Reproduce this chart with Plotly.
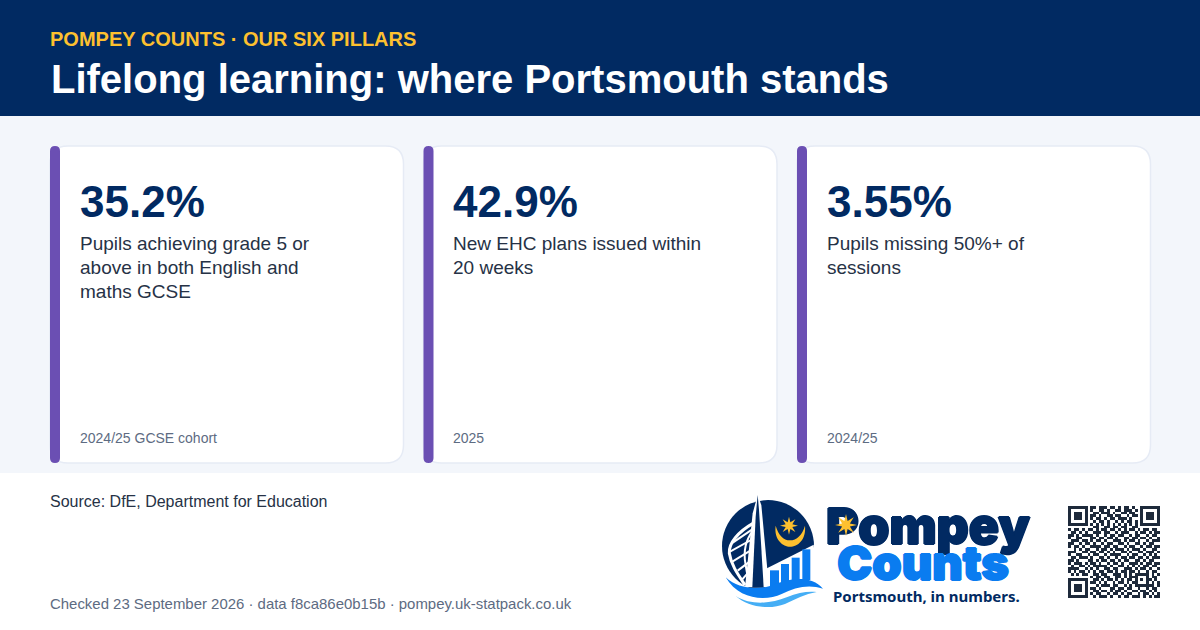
import math
import plotly.graph_objects as go

# ---- data ----
kicker = "POMPEY COUNTS · OUR SIX PILLARS"
title = "Lifelong learning: where Portsmouth stands"
values = [35.2, 42.9, 3.55]
descriptions = [
    ["Pupils achieving grade 5 or", "above in both English and", "maths GCSE"],
    ["New EHC plans issued within", "20 weeks"],
    ["Pupils missing 50%+ of", "sessions"],
]
periods = ["2024/25 GCSE cohort", "2025", "2024/25"]
source = "Source: DfE, Department for Education"
checked = "Checked 23 September 2026 · data f8ca86e0b15b · pompey.uk-statpack.co.uk"
logo_words = ["Pompey", "Counts"]
logo_tag = "Portsmouth, in numbers."
qr_rows = [
    "1111111" "0110111011010110100" "1111111",
    "1000001" "0100110100110111010" "1000001",
    "1011101" "0011011101001101100" "1011101",
    "1011101" "0110100110110010110" "1011101",
    "1011101" "0101101011011101000" "1011101",
    "1000001" "0010110100101011010" "1000001",
    "1111111" "0101010101010101010" "1111111",
    "0000000" "0011001101101100110" "0000000",
    "10110101101" "01101101010" "11010110110",
    "01101010011" "10110010111" "00101101011",
    "11010111101" "00101101100" "10110010110",
    "10011000110" "11011010011" "01101101001",
    "01110110101" "10100111010" "11010010111",
    "11001011010" "01011001101" "00110101100",
    "10110100111" "10110110010" "11001011011",
    "00101011001" "01101011101" "01110100110",
    "11100110110" "11010100110" "10011011101",
    "10011001011" "00101111001" "01100101010",
    "01101110100" "11010010110" "11011010111",
    "11010001101" "01101101011" "00110101100",
    "10111010110" "10010110100" "11101011011",
    "01001101011" "11101001101" "01010110110",
    "11110010101" "00110110011" "10101101001",
    "10101101010" "11011010110" "11010010110",
    "01010110011" "01100111010" "10111110101",
    "00000000" "1011011001101011" "10001" "0110",
    "1111111" "0" "0110101101010110" "10101" "1010",
    "1000001" "0" "1101010010110101" "10001" "0101",
    "1011101" "0" "0010111011001010" "11111" "1101",
    "1011101" "0" "1101000110110110" "010010110",
    "1011101" "0" "0110110101101001" "101101010",
    "1000001" "0" "1011001011010110" "010110101",
    "1111111" "0" "0101110100101101" "110101011",
]

# ---- styles ----
NAVY = "#012a62"
PURPLE = "#6b4fb3"
GOLD = "#fdc02f"
BLUE = "#0a7cf0"
LIGHT = "#45aef5"
INK = "#263246"
MUTED = "#5d6b82"
FONT = "Liberation Sans"

shapes = []
annotations = []


def rect(x0, y0, x1, y1, color):
    shapes.append(dict(type="rect", x0=x0, y0=y0, x1=x1, y1=y1,
                       fillcolor=color, line_width=0, layer="below"))


def rounded(x0, y0, x1, y1, r):
    return (f"M{x0+r},{y0} L{x1-r},{y0} Q{x1},{y0} {x1},{y0+r} L{x1},{y1-r} Q{x1},{y1} {x1-r},{y1} "
            f"L{x0+r},{y1} Q{x0},{y1} {x0},{y1-r} L{x0},{y0+r} Q{x0},{y0} {x0+r},{y0} Z")


def text(x, y, s, size, color, bold=False, anchor="left", family=FONT):
    annotations.append(dict(x=x, y=y, text=s, showarrow=False, xanchor=anchor, yanchor="middle",
                            xshift=-1, yshift=0, align="left", borderpad=0,
                            font=dict(family=family, size=size, color=color,
                                      weight=700 if bold else 400)))


def zp(path):
    """Logo path written in a 3x grid anchored at (715, 490)."""
    out = []
    for tok in path.split():
        cmd = ""
        if tok[0].isalpha():
            cmd, tok = tok[0], tok[1:]
        if tok:
            a, b = tok.split(",")
            out.append(f"{cmd}{715+float(a)/3:.2f},{490+float(b)/3:.2f}")
        else:
            out.append(cmd)
    return " ".join(out)


def logo(path, fill=None, line=None, width=0, layer="below"):
    shapes.append(dict(type="path", path=zp(path), fillcolor=fill or "rgba(0,0,0,0)",
                       line=dict(color=line or "rgba(0,0,0,0)", width=width), layer=layer))


def star(cx, cy, ro, ri, n, color, layer="below"):
    pts = []
    for i in range(2 * n):
        r = ro if i % 2 == 0 else ri
        a = -math.pi / 2 + i * math.pi / n
        pts.append(f"{cx + r*math.cos(a):.2f},{cy + r*math.sin(a):.2f}")
    shapes.append(dict(type="path", path="M" + " L".join(pts) + " Z", fillcolor=color,
                       line_width=0, layer=layer))


# ---- page bands ----
rect(0, 116, 1200, 473, "#f3f6fb")
rect(0, 0, 1200, 116, NAVY)
text(50, 39, kicker, 20, GOLD, True)
text(50.5, 79, title, 40, "#ffffff", True)

# ---- cards ----
card_x = [(50, 403.5), (423.5, 777), (797, 1150.5)]
text_x = [80, 453, 827]
for (x0, x1), tx, v, desc, per in zip(card_x, text_x, values, descriptions, periods):
    shapes.append(dict(type="path", path=rounded(x0, 146, x1, 463, 18), fillcolor="#ffffff",
                       line=dict(color="#e6ebf5", width=1.5), layer="below"))
    shapes.append(dict(type="path", path=rounded(x0, 146, x0 + 10, 463, 5), fillcolor=PURPLE,
                       line_width=0, layer="below"))
    text(tx, 201, f"{v}%", 44, NAVY, True)
    for i, line in enumerate(desc):
        text(tx, 243.5 + 24 * i, line, 19, INK)
    text(tx, 438, per, 14, MUTED)

# ---- footer text ----
text(50, 501.5, source, 16, INK)
text(50, 603, checked, 14.95, MUTED)

# ---- logo emblem ----
shapes.append(dict(type="circle", x0=722, y0=500, x1=814, y1=592, fillcolor=NAVY, line_width=0, layer="below"))
logo("M150,238 L296,164 L310,310 L150,310 Z", fill="#ffffff")
for bx0, by0, bx1, by1 in [(165, 241, 192, 290), (198, 222, 222, 285), (230, 203, 254, 278), (262, 178, 286, 270)]:
    logo(f"M{bx0},{by0} L{bx1},{by0} L{bx1},{by1} L{bx0},{by1} Z", fill=BLUE)
logo("M128,15 L113,70 L90,292 L162,292 L139,45 Z", fill="#ffffff")
logo("M128,15 L122,80 L112,292 L146,292 L132,60 Z", fill=NAVY)
logo("M114,100 C70,125 40,160 43,190 C48,225 70,255 90,285", line="#ffffff", width=3)
logo("M117,118 C90,150 85,190 92,225 C96,250 100,270 104,285", line="#ffffff", width=2)
for a, b, c, d in [(50, 160, 112, 118), (45, 185, 108, 150), (52, 215, 106, 182), (68, 242, 104, 215), (82, 268, 102, 245)]:
    logo(f"M{a},{b} L{c},{d}", line="#ffffff", width=2)
logo("M182,107 C176,150 205,170 225,170 C248,170 274,150 270,107 C262,135 245,151 225,151 C205,151 190,135 182,107 Z", fill=GOLD)
star(715 + 222 / 3, 490 + 107 / 3, 9, 3.6, 8, GOLD)
logo("M32,262 C70,296 120,300 165,288 C215,268 285,250 324,296 C280,282 240,292 200,312 C150,336 70,328 32,262 Z", fill=BLUE)
logo("M62,318 C110,348 170,340 215,322 C250,307 280,303 305,306 C270,312 240,328 210,342 C165,360 100,352 62,318 Z", fill=LIGHT)
star(846, 525, 11, 4.2, 8, GOLD, layer="above")
text(927, 596, logo_tag, 15, NAVY, True, anchor="center", family="Noto Sans")

# ---- traces ----
dx = 92 / 33
heavy = "1px 0 0 {c}, -1px 0 0 {c}, 0 1px 0 {c}, 0 -1px 0 {c}"
fig = go.Figure()
fig.add_trace(go.Scatter(
    x=[928, 923], y=[531, 568], mode="text", text=logo_words, textposition="middle center",
    textfont=dict(family="Inter", size=[50, 47], color=[NAVY, BLUE], weight=900,
                  shadow=[heavy.format(c=NAVY), heavy.format(c=BLUE)]),
    hoverinfo="skip", showlegend=False))
fig.add_trace(go.Heatmap(
    z=[[int(c) for c in row] for row in qr_rows],
    x0=1068 + dx / 2, dx=dx, y0=506 + dx / 2, dy=dx,
    colorscale=[[0, "rgba(255,255,255,0)"], [1, "#1e2a3b"]], zmin=0, zmax=1,
    showscale=False, hoverinfo="skip"))

fig.update_layout(
    width=1200, height=630, margin=dict(l=0, r=0, t=0, b=0),
    paper_bgcolor="#ffffff", plot_bgcolor="#ffffff", showlegend=False,
    xaxis=dict(range=[0, 1200], visible=False, fixedrange=True),
    yaxis=dict(range=[630, 0], visible=False, fixedrange=True),
    shapes=shapes, annotations=annotations,
)
fig.write_html("out.html", config=dict(displayModeBar=False),
               post_script="document.body.style.margin='0';")
